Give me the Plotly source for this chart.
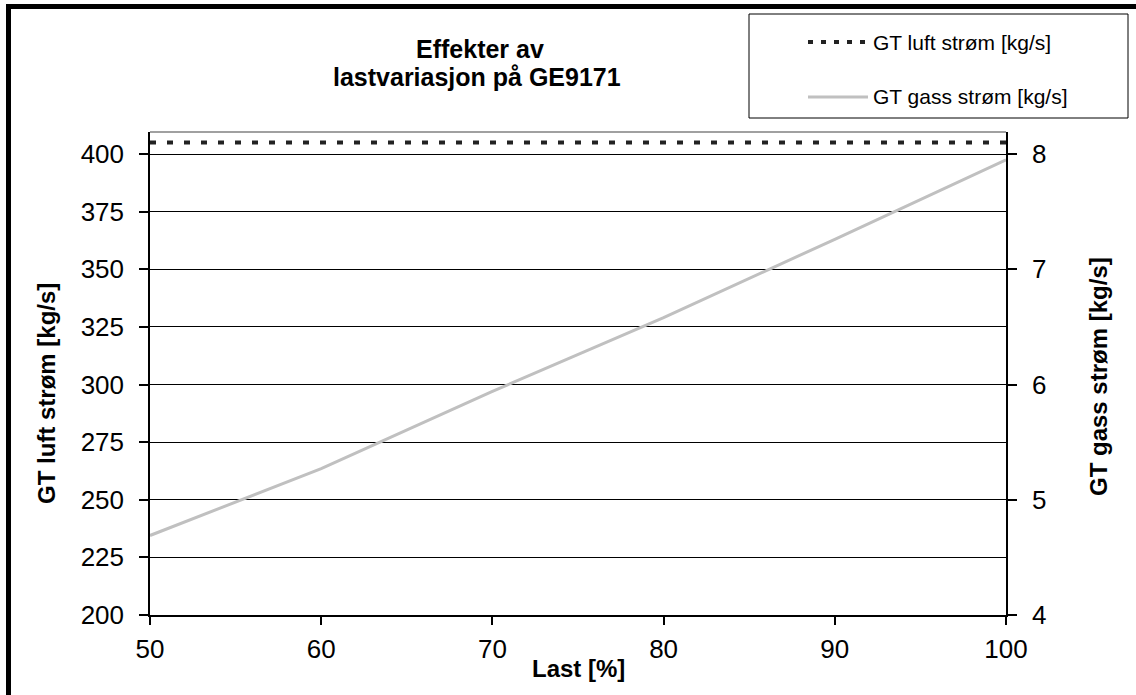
import plotly.graph_objects as go

# ---- data ----
last_pct = [50, 60, 70, 80, 90, 100]
gt_luft = [405, 405, 405, 405, 405, 405]          # kg/s (left axis)
gt_gass = [4.69, 5.27, 5.94, 6.58, 7.26, 7.95]     # kg/s (right axis)
left_ticks = [200, 225, 250, 275, 300, 325, 350, 375, 400]
right_ticks = [4, 5, 6, 7, 8]
x_ticks = [50, 60, 70, 80, 90, 100]

title_lines = ["Effekter av", "lastvariasjon på GE9171"]
name_luft = "GT luft strøm [kg/s]"
name_gass = "GT gass strøm [kg/s]"

W, H = 1136, 695
L, R, T, B = 150, 1006, 132, 615   # plot area in pixels
PW, PH = R - L, B - T

def px(x):
    return (x - L) / PW

def py(y):
    return (B - y) / PH

FONT = "Liberation Sans, Arial, sans-serif"

fig = go.Figure()
fig.add_trace(go.Scatter(x=last_pct, y=gt_luft, mode="lines", name=name_luft,
                         line=dict(color="#222222", width=4, dash="6px,11px"),
                         yaxis="y", showlegend=False))
fig.add_trace(go.Scatter(x=last_pct, y=gt_gass, mode="lines", name=name_gass,
                         line=dict(color="#c0c0c0", width=3),
                         yaxis="y2", showlegend=False))

shapes = [
    dict(type="line", xref="paper", yref="paper", x0=0, x1=1, y0=1, y1=1,
         line=dict(color="#808080", width=1.5)),
    dict(type="rect", xref="paper", yref="paper",
         x0=px(8.5), x1=px(1145), y0=py(6.5), y1=py(705),
         line=dict(color="black", width=5), fillcolor="rgba(0,0,0,0)", layer="above"),
    dict(type="rect", xref="paper", yref="paper",
         x0=px(749), x1=px(1128), y0=py(14), y1=py(118),
         line=dict(color="black", width=1), fillcolor="white"),
    dict(type="line", xref="paper", yref="paper",
         x0=px(808), x1=px(866), y0=py(42), y1=py(42),
         line=dict(color="#222222", width=4, dash="5px,8px")),
    dict(type="line", xref="paper", yref="paper",
         x0=px(808), x1=px(868), y0=py(97), y1=py(97),
         line=dict(color="#c0c0c0", width=3)),
]

annotations = [
    dict(text=name_luft, xref="paper", yref="paper", x=px(871), y=py(42),
         xanchor="left", yanchor="middle", showarrow=False,
         font=dict(family=FONT, size=21, color="black")),
    dict(text=name_gass, xref="paper", yref="paper", x=px(871), y=py(97),
         xanchor="left", yanchor="middle", showarrow=False,
         font=dict(family=FONT, size=21, color="black")),
    dict(text="<b>GT luft strøm [kg/s]</b>", xref="paper", yref="paper",
         x=px(46), y=py(394), xanchor="center", yanchor="middle", textangle=-90,
         showarrow=False, font=dict(family=FONT, size=24, color="black")),
    dict(text="<b>GT gass strøm [kg/s]</b>", xref="paper", yref="paper",
         x=px(1098), y=py(377), xanchor="center", yanchor="middle", textangle=-90,
         showarrow=False, font=dict(family=FONT, size=24, color="black")),
    dict(text="<b>Last [%]</b>", xref="paper", yref="paper",
         x=px(578), y=py(668), xanchor="center", yanchor="middle",
         showarrow=False, font=dict(family=FONT, size=24, color="black")),
    dict(text="<b>" + title_lines[0] + "</b>", xref="paper", yref="paper",
         x=px(480), y=py(49), xanchor="center", yanchor="middle",
         showarrow=False, font=dict(family=FONT, size=25, color="black")),
    dict(text="<b>" + title_lines[1] + "</b>", xref="paper", yref="paper",
         x=px(477), y=py(77), xanchor="center", yanchor="middle",
         showarrow=False, font=dict(family=FONT, size=25, color="black")),
]

tickfont = dict(family=FONT, size=26, color="black")

fig.update_layout(
    width=W, height=H,
    margin=dict(l=L, r=W - R, t=T, b=H - B, pad=0, autoexpand=False),
    paper_bgcolor="white", plot_bgcolor="white",
    font=dict(family=FONT, color="black"),
    xaxis=dict(range=[50, 100], tickvals=x_ticks, ticks="outside", ticklen=8,
               tickwidth=1.5, tickcolor="black", showgrid=False, zeroline=False,
               showline=True, linecolor="black", linewidth=1.5,
               tickfont=tickfont, ticklabelstandoff=2),
    yaxis=dict(range=[200, 200 + PH / 2.305], tickvals=left_ticks, ticks="outside",
               ticklen=9, tickwidth=1.5, tickcolor="black",
               showgrid=True, gridcolor="black", gridwidth=1.3, zeroline=False,
               showline=True, linecolor="black", linewidth=1.5,
               tickfont=tickfont, ticklabelstandoff=10),
    yaxis2=dict(range=[4, 4 + PH / 115.25], tickvals=right_ticks, overlaying="y",
                side="right", ticks="outside", ticklen=9, tickwidth=1.5,
                tickcolor="black", showgrid=False, zeroline=False,
                showline=True, linecolor="black", linewidth=1.5,
                tickfont=tickfont, ticklabelstandoff=10),
    yaxis3=dict(range=[4, 4 + PH / 115.25], tickvals=right_ticks, overlaying="y",
                side="right", ticks="inside", ticklen=8, tickwidth=1.5,
                tickcolor="black", showgrid=False, zeroline=False,
                showticklabels=False, showline=False),
    shapes=shapes,
    annotations=annotations,
)

fig.write_html("out.html")
